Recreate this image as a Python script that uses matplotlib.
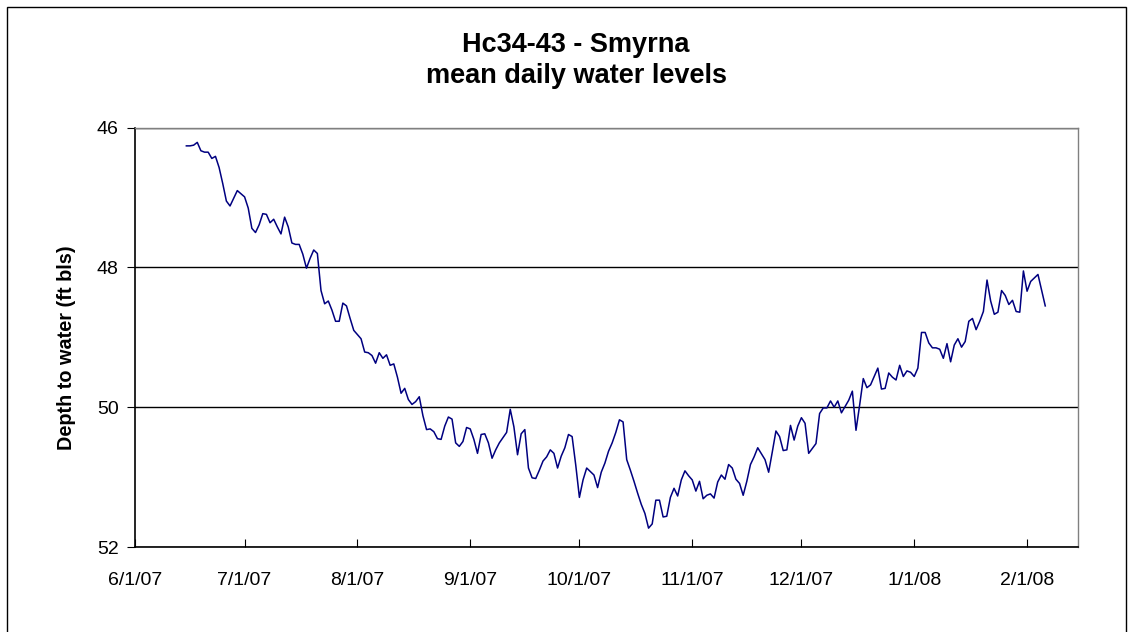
"""
Hc34-43 Smyrna - mean daily water levels (depth to water, ft bls)
Excel-style line chart with inverted depth axis.
"""

import datetime as dt

import matplotlib
matplotlib.use("Agg")
import matplotlib.pyplot as plt
from matplotlib.patches import Rectangle
from matplotlib.ticker import FuncFormatter
import matplotlib.dates as mdates


START = dt.date(2007, 6, 1)

# days after 6/1/07 for each daily reading
DAY_OFFSET = [
    14, 15, 16, 17, 18, 19, 20, 21, 22, 23, 24, 25, 26, 27, 28, 30,
    31, 32, 33, 34, 35, 36, 37, 38, 39, 40, 41, 42, 43, 44, 45, 46,
    47, 48, 49, 50, 51, 52, 53, 54, 55, 56, 57, 58, 59, 60, 62, 63,
    64, 65, 66, 67, 68, 69, 70, 71, 72, 73, 74, 75, 76, 77, 78, 79,
    80, 81, 82, 83, 84, 85, 86, 87, 88, 89, 90, 91, 92, 93, 94, 95,
    96, 97, 98, 99, 100, 102, 103, 104, 105, 106, 107, 108, 109, 110, 111, 112,
    113, 114, 115, 116, 117, 118, 119, 120, 121, 122, 123, 124, 126, 127, 128, 129,
    130, 131, 132, 133, 134, 135, 136, 137, 138, 139, 140, 141, 142, 143, 144, 145,
    146, 147, 148, 149, 150, 151, 152, 153, 154, 155, 156, 157, 158, 159, 160, 161,
    162, 163, 164, 165, 166, 167, 168, 169, 170, 171, 173, 174, 175, 176, 177, 178,
    179, 180, 181, 182, 183, 184, 185, 187, 188, 189, 190, 191, 192, 193, 194, 196,
    197, 198, 199, 200, 201, 202, 204, 205, 206, 207, 208, 209, 210, 211, 212, 213,
    214, 215, 216, 217, 218, 219, 220, 221, 222, 223, 224, 225, 226, 227, 228, 229,
    230, 231, 232, 233, 234, 235, 236, 237, 238, 239, 240, 241, 242, 243, 244, 245,
    246, 247, 248, 250,
]

DEPTH_FT = [
    46.26, 46.26, 46.25, 46.21, 46.33, 46.35, 46.35, 46.44, 46.41, 46.57, 46.80, 47.05, 47.12, 47.01, 46.90, 46.99,
    47.15, 47.44, 47.50, 47.39, 47.23, 47.24, 47.36, 47.31, 47.42, 47.52, 47.28, 47.42, 47.65, 47.67, 47.67, 47.81,
    48.01, 47.87, 47.75, 47.80, 48.33, 48.52, 48.48, 48.61, 48.77, 48.77, 48.51, 48.55, 48.73, 48.90, 49.02, 49.21,
    49.22, 49.26, 49.37, 49.22, 49.30, 49.25, 49.40, 49.38, 49.57, 49.80, 49.73, 49.89, 49.96, 49.92, 49.85, 50.12,
    50.32, 50.31, 50.35, 50.45, 50.46, 50.27, 50.14, 50.17, 50.51, 50.56, 50.49, 50.29, 50.31, 50.46, 50.66, 50.39,
    50.38, 50.51, 50.73, 50.61, 50.51, 50.36, 50.03, 50.28, 50.68, 50.38, 50.32, 50.87, 51.01, 51.02, 50.90, 50.77,
    50.71, 50.61, 50.66, 50.87, 50.70, 50.58, 50.39, 50.42, 50.83, 51.29, 51.04, 50.87, 50.97, 51.15, 50.93, 50.80,
    50.63, 50.51, 50.36, 50.18, 50.21, 50.75, 50.90, 51.06, 51.23, 51.39, 51.52, 51.73, 51.67, 51.33, 51.33, 51.57,
    51.56, 51.29, 51.16, 51.27, 51.04, 50.91, 50.98, 51.04, 51.20, 51.06, 51.31, 51.26, 51.24, 51.30, 51.07, 50.97,
    51.03, 50.82, 50.87, 51.03, 51.09, 51.26, 51.06, 50.82, 50.71, 50.58, 50.75, 50.93, 50.64, 50.34, 50.42, 50.62,
    50.61, 50.26, 50.47, 50.27, 50.15, 50.23, 50.66, 50.52, 50.09, 50.01, 50.01, 49.91, 50.00, 49.91, 50.08, 49.90,
    49.77, 50.33, 49.97, 49.59, 49.72, 49.68, 49.44, 49.74, 49.73, 49.51, 49.57, 49.61, 49.40, 49.56, 49.48, 49.50,
    49.56, 49.44, 48.93, 48.93, 49.08, 49.15, 49.15, 49.17, 49.30, 49.09, 49.35, 49.11, 49.02, 49.14, 49.06, 48.77,
    48.73, 48.89, 48.77, 48.63, 48.18, 48.48, 48.67, 48.64, 48.33, 48.40, 48.53, 48.47, 48.63, 48.64, 48.05, 48.34,
    48.20, 48.15, 48.10, 48.55,
]

Y_TICKS = [46, 48, 50, 52]
X_TICK_DATES = [dt.date(2007, m, 1) for m in range(6, 13)] + [dt.date(2008, 1, 1), dt.date(2008, 2, 1)]
X_END = dt.date(2008, 2, 15)

TITLE_1 = "Hc34-43 - Smyrna"
TITLE_2 = "mean daily water levels"
Y_LABEL = "Depth to water (ft bls)"


dates = [START + dt.timedelta(days=d) for d in DAY_OFFSET]

plt.rcParams['font.family'] = ['Liberation Sans', 'DejaVu Sans']

W, H = 1135, 632
fig = plt.figure(figsize=(W / 100, H / 100), dpi=100)
fig.patch.set_facecolor('white')

# plot area in pixel terms: x 135..1078, y 128..547
ax = fig.add_axes([135.4 / W, 1 - 547 / H, (1078 - 135.4) / W, (547 - 127.7) / H])

ax.plot(dates, DEPTH_FT, color='#000080', lw=1.1, zorder=3)

ax.set_ylim(52, 46)
ax.set_yticks(Y_TICKS)
ax.yaxis.grid(True, color='black', lw=1.0)
ax.set_axisbelow(True)

ax.set_xlim(START, X_END)
ax.set_xticks(X_TICK_DATES)
ax.xaxis.set_major_formatter(
    FuncFormatter(lambda v, pos: (lambda d: f"{d.month}/{d.day}/{d:%y}")(mdates.num2date(v))))

ax.tick_params(axis='x', direction='in', length=6, width=0.8, pad=18, labelsize=14, colors='black')
ax.tick_params(axis='y', direction='out', length=6, width=0.8, pad=6, labelsize=14, colors='black')

for side in ('left', 'bottom'):
    ax.spines[side].set_color('black')
    ax.spines[side].set_linewidth(1.2)
for side in ('top', 'right'):
    ax.spines[side].set_color('#808080')
    ax.spines[side].set_linewidth(1.0)

fig.text(576 / W, 1 - 45 / H, TITLE_1, ha='center', va='center', fontsize=19.5, fontweight='bold')
fig.text(576 / W, 1 - 76 / H, TITLE_2, ha='center', va='center', fontsize=19.5, fontweight='bold')
fig.text(67 / W, 1 - 348 / H, Y_LABEL, ha='center', va='center', rotation=90,
         fontsize=14.3, fontweight='bold')

# chart-area border
fig.patches.append(Rectangle((7 / W, -0.05), (1126 - 7) / W, 1.05 - 7 / H,
                             transform=fig.transFigure, fill=False, ec='black', lw=1.0))

fig.savefig('out.png', dpi=100)
